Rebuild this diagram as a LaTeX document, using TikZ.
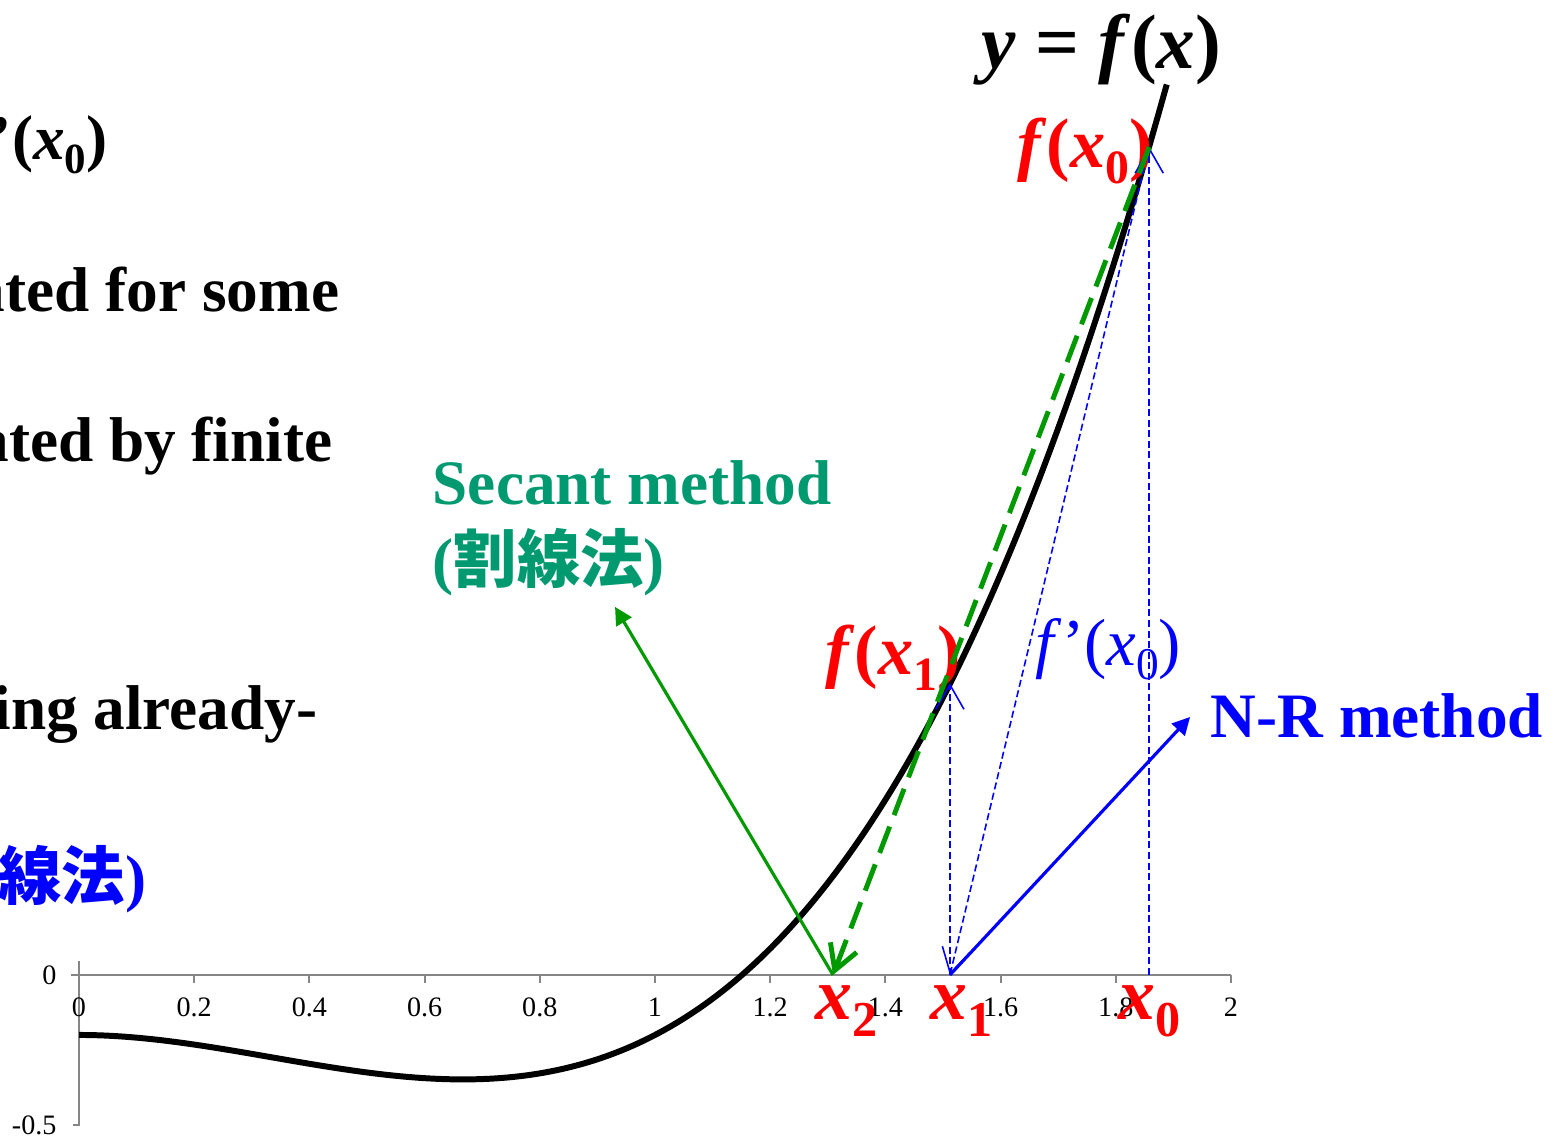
\documentclass[tikz,border=0pt]{standalone}
\usepackage{fontspec}
\setmainfont{Liberation Serif}
\newfontfamily\cjk{Noto Sans CJK JP}
\usetikzlibrary{arrows.meta}
\definecolor{secgreen}{RGB}{0,153,112}
\definecolor{arrgreen}{RGB}{0,153,0}
\definecolor{axgray}{RGB}{134,134,134}
\newcommand{\lowsub}[1]{\raisebox{-0.22em}{\scalebox{0.68}{#1}}}

\begin{document}
\begin{tikzpicture}[
  x=5.76cm, y=3cm,
  txt/.style={inner sep=0pt, font=\fontsize{18}{20}\selectfont\bfseries},
  redlbl/.style={inner sep=0pt, text=red, font=\fontsize{20}{22}\selectfont\bfseries},
  xlbl/.style={inner sep=0pt, text=red, font=\fontsize{21}{23}\selectfont\bfseries},
  ticklbl/.style={inner sep=0pt, font=\fontsize{8}{9}\selectfont},
  axisline/.style={draw=axgray, line width=0.6pt},
  guide/.style={blue, line width=0.45pt, dash pattern=on 2pt off 1pt},
  vtip/.style={-{Straight Barb[length=7pt,width=8pt]}},
  thinarr/.style={line width=0.9pt, -{Triangle[length=5pt,width=5pt]}},
]
\useasboundingbox (-0.1372,-0.54) rectangle (2.566,3.25);

% axes
\draw[axisline] (-0.014,0) -- (2,0);
\draw[axisline] (0,0.045) -- (0,-0.5) -- (-0.011,-0.5);
\foreach \v/\t [count=\i] in {0/0,0.2/0.2,0.4/0.4,0.6/0.6,0.8/0.8,1/1,1.2/1.2,1.4/1.4,1.6/1.6,1.8/1.8,2/2} {
  \draw[axisline] (\v,0) -- (\v,-0.027);
  \node[ticklbl, anchor=base] (tick\i) at (\v,-0.137) {\t};
}
\node[ticklbl, anchor=east] (yzero) at (-0.038,0) {0};
\node[ticklbl, anchor=east] (yhalf) at (-0.038,-0.5) {-0.5};

% curve
\draw[line width=1.7pt] plot[domain=0:1.89, samples=120, smooth] (\x,{\x*\x*\x-\x*\x-0.2});

% points
\coordinate (p0) at (1.858,2.76);
\coordinate (a0) at (1.858,0);
\coordinate (p1) at (1.512,0.973);
\coordinate (a1) at (1.512,0);
\coordinate (a2) at (1.309,0);
\coordinate (sectip) at (0.9306,1.227);
\coordinate (nrtip) at (1.929,0.86);

% text on the left
\node[txt, anchor=base east] (deriv) at (0.0503,2.717) {’(\textit{x}\lowsub{0})};
\node[txt, anchor=base east] (line1) at (0.453,2.21) {ated for some};
\node[txt, anchor=base east] (line2) at (0.441,1.71) {ated by finite};
\node[txt, anchor=base east] (line3) at (0.415,0.817) {ing already-};
\node[txt, anchor=base east, text=blue] (line4) at (0.118,0.25) {{\cjk\bfseries 線法})};

% method labels
\node[txt, anchor=base west, text=secgreen] (secname) at (0.613,1.567) {Secant method};
\node[txt, anchor=base west, text=secgreen] (secjp) at (0.613,1.307) {({\cjk\bfseries 割線法})};
\node[txt, anchor=base west, text=blue] (nrname) at (1.964,0.79) {N-R method};

% function labels
\node[inner sep=0pt, anchor=base west, font=\fontsize{22}{24}\selectfont\bfseries] (yfx) at (1.566,3.023) {\textit{y} = \textit{f}(\textit{x})};
\node[redlbl, anchor=base west] (fx0) at (1.628,2.69) {\textit{f}(\textit{x}\lowsub{0})};
\node[redlbl, anchor=base west] (fx1) at (1.295,1.0) {\textit{f}(\textit{x}\lowsub{1})};
\node[inner sep=0pt, anchor=base west, text=blue, font=\fontsize{19}{21}\selectfont] (dfx0) at (1.66,1.033) {\textit{f}’(\textit{x}\lowsub{0})};
\node[xlbl, anchor=base west] (lx2) at (1.278,-0.15) {\textit{x}\lowsub{2}};
\node[xlbl, anchor=base west] (lx1) at (1.477,-0.15) {\textit{x}\lowsub{1}};
\node[xlbl, anchor=base west] (lx0) at (1.804,-0.15) {\textit{x}\lowsub{0}};

% Newton-Raphson step
\draw[guide, vtip] (a0) -- (p0);
\draw[guide, vtip] (p0) -- (a1);
\draw[guide, vtip] (a1) -- (p1);
% secant step
\draw[arrgreen, line width=1.4pt, dash pattern=on 8pt off 3.5pt, -{Straight Barb[length=7pt,width=8pt]}] (p0) -- (a2);
\draw[arrgreen, thinarr] (a2) -- (sectip);
\draw[blue, thinarr] (a1) -- (nrtip);
\end{tikzpicture}
\end{document}
